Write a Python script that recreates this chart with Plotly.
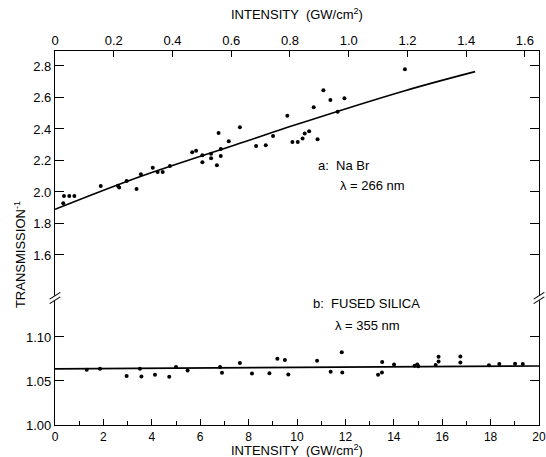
import plotly.graph_objects as go

# ---- data ----
nabr_x = [0.34, 0.37, 0.59, 0.80, 1.89, 2.60, 2.65, 2.96, 3.37, 3.55, 4.04, 4.24, 4.45, 4.75,
          5.67, 5.83, 6.09, 6.09, 6.45, 6.45, 6.69, 6.76, 6.85, 6.85, 7.18, 7.64, 8.31, 8.71,
          9.01, 9.60, 9.81, 10.03, 10.23, 10.32, 10.50, 10.69, 10.85, 11.09, 11.38, 11.68,
          11.96, 14.46]
nabr_y = [1.928, 1.975, 1.975, 1.975, 2.038, 2.040, 2.028, 2.070, 2.019, 2.112, 2.154, 2.127,
          2.127, 2.165, 2.252, 2.262, 2.233, 2.189, 2.243, 2.214, 2.170, 2.375, 2.229, 2.273,
          2.322, 2.411, 2.292, 2.296, 2.356, 2.484, 2.318, 2.318, 2.339, 2.371, 2.385, 2.538,
          2.335, 2.646, 2.584, 2.510, 2.595, 2.779]
nabr_fit_x = [0.0, 3.5, 8.06, 9.71, 14.46, 17.36]
nabr_fit_y = [1.890, 2.097, 2.330, 2.415, 2.643, 2.764]

silica_x = [1.31, 1.86, 2.96, 3.51, 3.57, 4.13, 4.72, 5.00, 5.48, 6.82, 6.90, 7.64, 8.14,
            8.86, 9.19, 9.50, 9.64, 10.83, 11.39, 11.85, 11.87, 13.35, 13.51, 13.52, 14.01,
            14.86, 14.97, 15.01, 15.73, 15.85, 15.85, 16.75, 16.75, 17.93, 18.36, 19.01, 19.33]
silica_y = [1.0627, 1.0638, 1.0556, 1.0638, 1.0552, 1.0571, 1.0549, 1.0660, 1.0619, 1.0660,
            1.0593, 1.0704, 1.0586, 1.0589, 1.0752, 1.0738, 1.0574, 1.0730, 1.0604, 1.0827,
            1.0597, 1.0571, 1.0597, 1.0716, 1.0686, 1.0674, 1.0686, 1.0667, 1.0682, 1.0722,
            1.0774, 1.0711, 1.0778, 1.0678, 1.0693, 1.0697, 1.0693]
silica_fit_x = [0.0, 9.71, 20.0]
silica_fit_y = [1.0638, 1.0656, 1.0671]

bottom_ticks = [0, 2, 4, 6, 8, 10, 12, 14, 16, 18, 20]
top_tickvals = [0, 0.2, 0.4, 0.6, 0.8, 1.0, 1.2, 1.4, 1.6]
top_ticktext = ["0", "0.2", "0.4", "0.6", "0.8", "1.0", "1.2", "1.4", "1.6"]
upper_yticks = [1.6, 1.8, 2.0, 2.2, 2.4, 2.6, 2.8]
upper_ytext = ["1.6", "1.8", "2.0", "2.2", "2.4", "2.6", "2.8"]
lower_yticks = [1.00, 1.05, 1.10]
lower_ytext = ["1.00", "1.05", "1.10"]

FONT = "Liberation Sans, Arial, sans-serif"
BRK = 0.3396

fig = go.Figure()
fig.add_trace(go.Scatter(x=nabr_x, y=nabr_y, mode="markers", xaxis="x", yaxis="y2",
                         marker=dict(color="black", size=4), showlegend=False))
fig.add_trace(go.Scatter(x=nabr_fit_x, y=nabr_fit_y, mode="lines", xaxis="x", yaxis="y2",
                         line=dict(color="black", width=1.6, shape="spline"), showlegend=False))
fig.add_trace(go.Scatter(x=silica_x, y=silica_y, mode="markers", xaxis="x", yaxis="y",
                         marker=dict(color="black", size=4), showlegend=False))
fig.add_trace(go.Scatter(x=silica_fit_x, y=silica_fit_y, mode="lines", xaxis="x", yaxis="y",
                         line=dict(color="black", width=1.6), showlegend=False))
# invisible trace to activate the top axis
fig.add_trace(go.Scatter(x=[0], y=[2.0], mode="markers", xaxis="x2", yaxis="y2",
                         marker=dict(opacity=0), showlegend=False, hoverinfo="skip"))

axis_common = dict(showline=True, linecolor="black", linewidth=1.2, showgrid=False,
                   zeroline=False, ticks="inside", tickcolor="black", automargin=False)
f13 = dict(family=FONT, size=13, color="black")
f12 = dict(family=FONT, size=12, color="black")

fig.update_layout(
    width=546, height=457,
    margin=dict(l=55, r=7, t=51, b=32),
    paper_bgcolor="white", plot_bgcolor="white",
    xaxis=dict(range=[0, 20], domain=[0, 1], anchor="y", tickvals=bottom_ticks,
               ticklen=6, tickwidth=1.2, tickfont=f12,
               minor=dict(dtick=1, tick0=0, ticklen=4, ticks="inside", tickcolor="black"),
               **axis_common),
    xaxis2=dict(range=[0, 1.648], domain=[0, 1], anchor="y2", overlaying="x", side="top",
                tickvals=top_tickvals, ticktext=top_ticktext, ticklen=6, tickwidth=1.2,
                tickfont=f13, **axis_common),
    yaxis=dict(range=[1.0, 1.1443], domain=[0, BRK], anchor="x", tickvals=lower_yticks,
               ticktext=lower_ytext, ticklen=9, tickwidth=1.2, mirror="ticks",
               tickfont=f13, **axis_common),
    yaxis2=dict(range=[1.327, 2.895], domain=[BRK, 1], anchor="x", tickvals=upper_yticks,
                ticktext=upper_ytext, ticklen=9, tickwidth=1.2, mirror="ticks",
                tickfont=f13, **axis_common),
)

# axis titles
fig.add_annotation(text="INTENSITY  (GW/cm<sup>2</sup>)", xref="paper", yref="paper",
                   x=0.5, y=1.099, showarrow=False, yanchor="middle", font=f13)
fig.add_annotation(text="INTENSITY  (GW/cm<sup>2</sup>)", xref="paper", yref="paper",
                   x=0.5, y=-0.066, showarrow=False, yanchor="middle", font=f13)
fig.add_annotation(text="TRANSMISSION<sup>-1</sup>", xref="paper", yref="paper",
                   x=-0.093, y=0.457, showarrow=False, textangle=-90, font=f13)

# panel labels
fig.add_annotation(text="a:  Na Br", xref="x", yref="y2", x=10.79, y=2.171,
                   showarrow=False, xanchor="left", font=f13)
fig.add_annotation(text="λ = 266 nm", xref="x", yref="y2", x=11.69, y=2.038,
                   showarrow=False, xanchor="left", font=f13)
fig.add_annotation(text="b:  FUSED SILICA", xref="x", yref="y", x=10.58, y=1.1386,
                   showarrow=False, xanchor="left", font=f13)
fig.add_annotation(text="λ = 355 nm", xref="x", yref="y", x=11.49, y=1.1136,
                   showarrow=False, xanchor="left", font=f13)

# axis break marks
dx, dy, g = 0.011, 0.009, 0.006
for xc in (0, 1):
    fig.add_shape(type="rect", xref="paper", yref="paper", x0=xc - 0.004, x1=xc + 0.004,
                  y0=BRK - g, y1=BRK + g, fillcolor="white", line=dict(width=0), layer="above")
    for off in (-g, g):
        fig.add_shape(type="line", xref="paper", yref="paper",
                      x0=xc - dx, y0=BRK + off - dy, x1=xc + dx, y1=BRK + off + dy,
                      line=dict(color="black", width=1.1), layer="above")

fig.write_html("out.html", config={"displayModeBar": False})

# remove the default page margin so the figure sits at the window's top-left corner
with open("out.html", "r", encoding="utf-8") as f:
    html = f.read()
html = html.replace("<head>", "<head><style>html,body{margin:0;padding:0;overflow:hidden;}</style>", 1)
with open("out.html", "w", encoding="utf-8") as f:
    f.write(html)
